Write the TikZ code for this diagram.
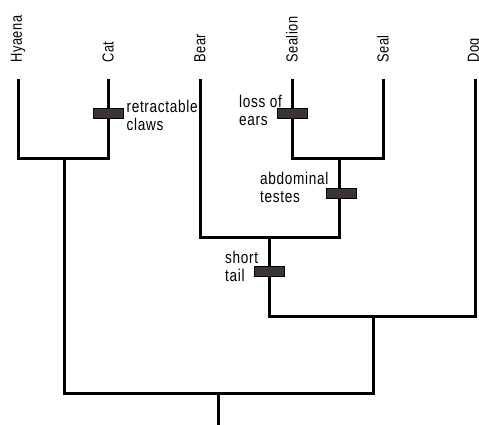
\documentclass[tikz,border=0pt]{standalone}
\usepackage{fontspec}
\setmainfont{Liberation Sans}[FakeStretch=0.8, LetterSpace=4]
\usetikzlibrary{positioning}

\definecolor{barfill}{HTML}{3B3335}

\tikzset{
  branch/.style={line width=3pt, line cap=rect},
  taxon/.style={rotate=90, anchor=west, inner sep=0pt, font=\fontsize{16}{18}\selectfont},
  trait/.style={draw=black, fill=barfill, line width=0.8pt, minimum width=30pt, minimum height=10pt, inner sep=0pt},
  note/.style={align=left, inner sep=0pt, font=\fontsize{17}{18}\selectfont}
}

\begin{document}
\begin{tikzpicture}[x=1pt, y=-1pt]
      \useasboundingbox (0,0) rectangle (479,424);
      % leaf tips
      \coordinate (hyaena-t) at (18,80);
      \coordinate (cat-t) at (108,80);
      \coordinate (bear-t) at (200,80);
      \coordinate (sealion-t) at (292,80);
      \coordinate (seal-t) at (383,80);
      \coordinate (dog-t) at (475,80);
      % taxon names
      \node[taxon] (hyaena) at (18,63) {Hyaena};
      \node[taxon] (cat) at (108,63) {Cat};
      \node[taxon] (bear) at (200,63) {Bear};
      \node[taxon] (sealion) at (292,63) {Sealion};
      \node[taxon] (seal) at (383,63) {Seal};
      \node[taxon] (dog) at (475,63) {Dog};
      % internal nodes
      \coordinate (felid) at (64,158);
      \coordinate (pinni) at (339,158);
      \coordinate (arcto) at (269,237);
      \coordinate (canid) at (373,316);
      \coordinate (root) at (218,393);
      \coordinate (base) at (218,424);
      % branches
      \draw[branch] (hyaena-t) |- (felid) -| (cat-t);
      \draw[branch] (sealion-t) |- (pinni) -| (seal-t);
      \draw[branch] (bear-t) |- (arcto) -| (pinni);
      \draw[branch] (arcto) |- (canid) -| (dog-t);
      \draw[branch] (felid) |- (root) -| (canid);
      \draw[branch] (root) -- (base);
      % character changes
      \node[trait] (claws) at (108,113) {};
      \node[trait] (ears) at (292,113) {};
      \node[trait] (testes) at (341,193) {};
      \node[trait] (tail) at (269,271) {};
      \node[note, right=3pt of claws.east, yshift=-2pt] (claws-l) {retractable\\claws};
      \node[note, anchor=east] (ears-l) at (282,110) {loss of\\ears};
      \node[note, anchor=west] (testes-l) at (260,187) {abdominal\\testes};
      \node[note, anchor=west] (tail-l) at (225,266) {short\\tail};
\end{tikzpicture}
\end{document}
